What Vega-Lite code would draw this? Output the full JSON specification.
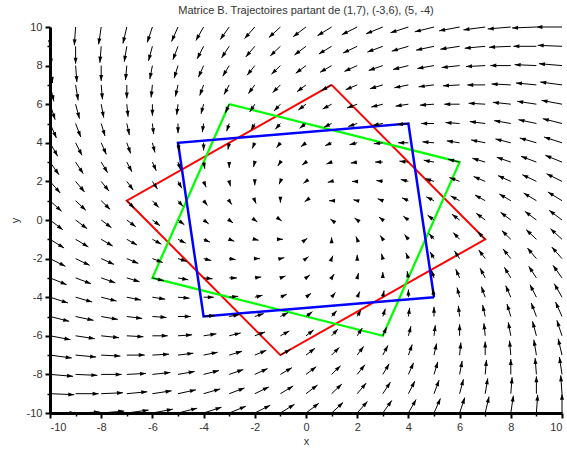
{
  "$schema": "https://vega.github.io/schema/vega-lite/v6.json",
  "width": 512,
  "height": 386,
  "autosize": {"type": "none"},
  "padding": {"left": 50, "top": 27, "right": 5, "bottom": 37},
  "background": "white",
  "title": {"text": "Matrice B. Trajectoires partant de (1,7), (-3,6), (5, -4)", "font": "Liberation Sans", "fontSize": 11, "fontWeight": "normal", "color": "#333", "anchor": "middle", "frame": "group", "baseline": "bottom", "offset": 13, "dy": 19},
  "datasets": {
    "traj": [
      {"t": "r", "o": 0, "x": 1, "y": 7}, {"t": "r", "o": 1, "x": 7, "y": -1}, {"t": "r", "o": 2, "x": -1, "y": -7}, {"t": "r", "o": 3, "x": -7, "y": 1}, {"t": "r", "o": 4, "x": 1, "y": 7},
      {"t": "g", "o": 0, "x": -3, "y": 6}, {"t": "g", "o": 1, "x": 6, "y": 3}, {"t": "g", "o": 2, "x": 3, "y": -6}, {"t": "g", "o": 3, "x": -6, "y": -3}, {"t": "g", "o": 4, "x": -3, "y": 6},
      {"t": "b", "o": 0, "x": 5, "y": -4}, {"t": "b", "o": 1, "x": -4, "y": -5}, {"t": "b", "o": 2, "x": -5, "y": 4}, {"t": "b", "o": 3, "x": 4, "y": 5}, {"t": "b", "o": 4, "x": 5, "y": -4}
    ],
    "field": [
{"x":-10,"y":10,"x2":-10,"y2":9,"d":270},{"x":-9,"y":10,"x2":-9.05,"y2":9.05,"d":267},{"x":-8,"y":10,"x2":-8.1,"y2":9.1,"d":264},{"x":-7,"y":10,"x2":-7.15,"y2":9.15,"d":260},{"x":-6,"y":10,"x2":-6.2,"y2":9.2,"d":256},{"x":-5,"y":10,"x2":-5.25,"y2":9.25,"d":252},{"x":-4,"y":10,"x2":-4.3,"y2":9.3,"d":247},{"x":-3,"y":10,"x2":-3.35,"y2":9.35,"d":242},{"x":-2,"y":10,"x2":-2.4,"y2":9.4,"d":236},{"x":-1,"y":10,"x2":-1.45,"y2":9.45,"d":231},{"x":0,"y":10,"x2":-0.5,"y2":9.5,"d":225},{"x":1,"y":10,"x2":0.45,"y2":9.55,"d":219},{"x":2,"y":10,"x2":1.4,"y2":9.6,"d":214},{"x":3,"y":10,"x2":2.35,"y2":9.65,"d":208},{"x":4,"y":10,"x2":3.3,"y2":9.7,"d":203},{"x":5,"y":10,"x2":4.25,"y2":9.75,"d":198},{"x":6,"y":10,"x2":5.2,"y2":9.8,"d":194},{"x":7,"y":10,"x2":6.15,"y2":9.85,"d":190},{"x":8,"y":10,"x2":7.1,"y2":9.9,"d":186},{"x":9,"y":10,"x2":8.05,"y2":9.95,"d":183},{"x":10,"y":10,"x2":9,"y2":10,"d":180},
{"x":-10,"y":9,"x2":-9.95,"y2":8.05,"d":273},{"x":-9,"y":9,"x2":-9,"y2":8.1,"d":270},{"x":-8,"y":9,"x2":-8.05,"y2":8.15,"d":267},{"x":-7,"y":9,"x2":-7.1,"y2":8.2,"d":263},{"x":-6,"y":9,"x2":-6.15,"y2":8.25,"d":259},{"x":-5,"y":9,"x2":-5.2,"y2":8.3,"d":254},{"x":-4,"y":9,"x2":-4.25,"y2":8.35,"d":249},{"x":-3,"y":9,"x2":-3.3,"y2":8.4,"d":243},{"x":-2,"y":9,"x2":-2.35,"y2":8.45,"d":238},{"x":-1,"y":9,"x2":-1.4,"y2":8.5,"d":231},{"x":0,"y":9,"x2":-0.45,"y2":8.55,"d":225},{"x":1,"y":9,"x2":0.5,"y2":8.6,"d":219},{"x":2,"y":9,"x2":1.45,"y2":8.65,"d":212},{"x":3,"y":9,"x2":2.4,"y2":8.7,"d":207},{"x":4,"y":9,"x2":3.35,"y2":8.75,"d":201},{"x":5,"y":9,"x2":4.3,"y2":8.8,"d":196},{"x":6,"y":9,"x2":5.25,"y2":8.85,"d":191},{"x":7,"y":9,"x2":6.2,"y2":8.9,"d":187},{"x":8,"y":9,"x2":7.15,"y2":8.95,"d":183},{"x":9,"y":9,"x2":8.1,"y2":9,"d":180},{"x":10,"y":9,"x2":9.05,"y2":9.05,"d":177},
{"x":-10,"y":8,"x2":-9.9,"y2":7.1,"d":276},{"x":-9,"y":8,"x2":-8.95,"y2":7.15,"d":273},{"x":-8,"y":8,"x2":-8,"y2":7.2,"d":270},{"x":-7,"y":8,"x2":-7.05,"y2":7.25,"d":266},{"x":-6,"y":8,"x2":-6.1,"y2":7.3,"d":262},{"x":-5,"y":8,"x2":-5.15,"y2":7.35,"d":257},{"x":-4,"y":8,"x2":-4.2,"y2":7.4,"d":252},{"x":-3,"y":8,"x2":-3.25,"y2":7.45,"d":246},{"x":-2,"y":8,"x2":-2.3,"y2":7.5,"d":239},{"x":-1,"y":8,"x2":-1.35,"y2":7.55,"d":232},{"x":0,"y":8,"x2":-0.4,"y2":7.6,"d":225},{"x":1,"y":8,"x2":0.55,"y2":7.65,"d":218},{"x":2,"y":8,"x2":1.5,"y2":7.7,"d":211},{"x":3,"y":8,"x2":2.45,"y2":7.75,"d":204},{"x":4,"y":8,"x2":3.4,"y2":7.8,"d":198},{"x":5,"y":8,"x2":4.35,"y2":7.85,"d":193},{"x":6,"y":8,"x2":5.3,"y2":7.9,"d":188},{"x":7,"y":8,"x2":6.25,"y2":7.95,"d":184},{"x":8,"y":8,"x2":7.2,"y2":8,"d":180},{"x":9,"y":8,"x2":8.15,"y2":8.05,"d":177},{"x":10,"y":8,"x2":9.1,"y2":8.1,"d":174},
{"x":-10,"y":7,"x2":-9.85,"y2":6.15,"d":280},{"x":-9,"y":7,"x2":-8.9,"y2":6.2,"d":277},{"x":-8,"y":7,"x2":-7.95,"y2":6.25,"d":274},{"x":-7,"y":7,"x2":-7,"y2":6.3,"d":270},{"x":-6,"y":7,"x2":-6.05,"y2":6.35,"d":266},{"x":-5,"y":7,"x2":-5.1,"y2":6.4,"d":261},{"x":-4,"y":7,"x2":-4.15,"y2":6.45,"d":255},{"x":-3,"y":7,"x2":-3.2,"y2":6.5,"d":248},{"x":-2,"y":7,"x2":-2.25,"y2":6.55,"d":241},{"x":-1,"y":7,"x2":-1.3,"y2":6.6,"d":233},{"x":0,"y":7,"x2":-0.35,"y2":6.65,"d":225},{"x":1,"y":7,"x2":0.6,"y2":6.7,"d":217},{"x":2,"y":7,"x2":1.55,"y2":6.75,"d":209},{"x":3,"y":7,"x2":2.5,"y2":6.8,"d":202},{"x":4,"y":7,"x2":3.45,"y2":6.85,"d":195},{"x":5,"y":7,"x2":4.4,"y2":6.9,"d":189},{"x":6,"y":7,"x2":5.35,"y2":6.95,"d":184},{"x":7,"y":7,"x2":6.3,"y2":7,"d":180},{"x":8,"y":7,"x2":7.25,"y2":7.05,"d":176},{"x":9,"y":7,"x2":8.2,"y2":7.1,"d":173},{"x":10,"y":7,"x2":9.15,"y2":7.15,"d":170},
{"x":-10,"y":6,"x2":-9.8,"y2":5.2,"d":284},{"x":-9,"y":6,"x2":-8.85,"y2":5.25,"d":281},{"x":-8,"y":6,"x2":-7.9,"y2":5.3,"d":278},{"x":-7,"y":6,"x2":-6.95,"y2":5.35,"d":274},{"x":-6,"y":6,"x2":-6,"y2":5.4,"d":270},{"x":-5,"y":6,"x2":-5.05,"y2":5.45,"d":265},{"x":-4,"y":6,"x2":-4.1,"y2":5.5,"d":259},{"x":-3,"y":6,"x2":-3.15,"y2":5.55,"d":252},{"x":-2,"y":6,"x2":-2.2,"y2":5.6,"d":243},{"x":-1,"y":6,"x2":-1.25,"y2":5.65,"d":234},{"x":0,"y":6,"x2":-0.3,"y2":5.7,"d":225},{"x":1,"y":6,"x2":0.65,"y2":5.75,"d":216},{"x":2,"y":6,"x2":1.6,"y2":5.8,"d":207},{"x":3,"y":6,"x2":2.55,"y2":5.85,"d":198},{"x":4,"y":6,"x2":3.5,"y2":5.9,"d":191},{"x":5,"y":6,"x2":4.45,"y2":5.95,"d":185},{"x":6,"y":6,"x2":5.4,"y2":6,"d":180},{"x":7,"y":6,"x2":6.35,"y2":6.05,"d":176},{"x":8,"y":6,"x2":7.3,"y2":6.1,"d":172},{"x":9,"y":6,"x2":8.25,"y2":6.15,"d":169},{"x":10,"y":6,"x2":9.2,"y2":6.2,"d":166},
{"x":-10,"y":5,"x2":-9.75,"y2":4.25,"d":288},{"x":-9,"y":5,"x2":-8.8,"y2":4.3,"d":286},{"x":-8,"y":5,"x2":-7.85,"y2":4.35,"d":283},{"x":-7,"y":5,"x2":-6.9,"y2":4.4,"d":279},{"x":-6,"y":5,"x2":-5.95,"y2":4.45,"d":275},{"x":-5,"y":5,"x2":-5,"y2":4.5,"d":270},{"x":-4,"y":5,"x2":-4.05,"y2":4.55,"d":264},{"x":-3,"y":5,"x2":-3.1,"y2":4.6,"d":256},{"x":-2,"y":5,"x2":-2.15,"y2":4.65,"d":247},{"x":-1,"y":5,"x2":-1.2,"y2":4.7,"d":236},{"x":0,"y":5,"x2":-0.25,"y2":4.75,"d":225},{"x":1,"y":5,"x2":0.7,"y2":4.8,"d":214},{"x":2,"y":5,"x2":1.65,"y2":4.85,"d":203},{"x":3,"y":5,"x2":2.6,"y2":4.9,"d":194},{"x":4,"y":5,"x2":3.55,"y2":4.95,"d":186},{"x":5,"y":5,"x2":4.5,"y2":5,"d":180},{"x":6,"y":5,"x2":5.45,"y2":5.05,"d":175},{"x":7,"y":5,"x2":6.4,"y2":5.1,"d":171},{"x":8,"y":5,"x2":7.35,"y2":5.15,"d":167},{"x":9,"y":5,"x2":8.3,"y2":5.2,"d":164},{"x":10,"y":5,"x2":9.25,"y2":5.25,"d":162},
{"x":-10,"y":4,"x2":-9.7,"y2":3.3,"d":293},{"x":-9,"y":4,"x2":-8.75,"y2":3.35,"d":291},{"x":-8,"y":4,"x2":-7.8,"y2":3.4,"d":288},{"x":-7,"y":4,"x2":-6.85,"y2":3.45,"d":285},{"x":-6,"y":4,"x2":-5.9,"y2":3.5,"d":281},{"x":-5,"y":4,"x2":-4.95,"y2":3.55,"d":276},{"x":-4,"y":4,"x2":-4,"y2":3.6,"d":270},{"x":-3,"y":4,"x2":-3.05,"y2":3.65,"d":262},{"x":-2,"y":4,"x2":-2.1,"y2":3.7,"d":252},{"x":-1,"y":4,"x2":-1.15,"y2":3.75,"d":239},{"x":0,"y":4,"x2":-0.2,"y2":3.8,"d":225},{"x":1,"y":4,"x2":0.75,"y2":3.85,"d":211},{"x":2,"y":4,"x2":1.7,"y2":3.9,"d":198},{"x":3,"y":4,"x2":2.65,"y2":3.95,"d":188},{"x":4,"y":4,"x2":3.6,"y2":4,"d":180},{"x":5,"y":4,"x2":4.55,"y2":4.05,"d":174},{"x":6,"y":4,"x2":5.5,"y2":4.1,"d":169},{"x":7,"y":4,"x2":6.45,"y2":4.15,"d":165},{"x":8,"y":4,"x2":7.4,"y2":4.2,"d":162},{"x":9,"y":4,"x2":8.35,"y2":4.25,"d":159},{"x":10,"y":4,"x2":9.3,"y2":4.3,"d":157},
{"x":-10,"y":3,"x2":-9.65,"y2":2.35,"d":298},{"x":-9,"y":3,"x2":-8.7,"y2":2.4,"d":297},{"x":-8,"y":3,"x2":-7.75,"y2":2.45,"d":294},{"x":-7,"y":3,"x2":-6.8,"y2":2.5,"d":292},{"x":-6,"y":3,"x2":-5.85,"y2":2.55,"d":288},{"x":-5,"y":3,"x2":-4.9,"y2":2.6,"d":284},{"x":-4,"y":3,"x2":-3.95,"y2":2.65,"d":278},{"x":-3,"y":3,"x2":-3,"y2":2.7,"d":270},{"x":-2,"y":3,"x2":-2.05,"y2":2.75,"d":259},{"x":-1,"y":3,"x2":-1.1,"y2":2.8,"d":243},{"x":0,"y":3,"x2":-0.15,"y2":2.85,"d":225},{"x":1,"y":3,"x2":0.8,"y2":2.9,"d":207},{"x":2,"y":3,"x2":1.75,"y2":2.95,"d":191},{"x":3,"y":3,"x2":2.7,"y2":3,"d":180},{"x":4,"y":3,"x2":3.65,"y2":3.05,"d":172},{"x":5,"y":3,"x2":4.6,"y2":3.1,"d":166},{"x":6,"y":3,"x2":5.55,"y2":3.15,"d":162},{"x":7,"y":3,"x2":6.5,"y2":3.2,"d":158},{"x":8,"y":3,"x2":7.45,"y2":3.25,"d":156},{"x":9,"y":3,"x2":8.4,"y2":3.3,"d":153},{"x":10,"y":3,"x2":9.35,"y2":3.35,"d":152},
{"x":-10,"y":2,"x2":-9.6,"y2":1.4,"d":304},{"x":-9,"y":2,"x2":-8.65,"y2":1.45,"d":302},{"x":-8,"y":2,"x2":-7.7,"y2":1.5,"d":301},{"x":-7,"y":2,"x2":-6.75,"y2":1.55,"d":299},{"x":-6,"y":2,"x2":-5.8,"y2":1.6,"d":297},{"x":-5,"y":2,"x2":-4.85,"y2":1.65,"d":293},{"x":-4,"y":2,"x2":-3.9,"y2":1.7,"d":288},{"x":-3,"y":2,"x2":-2.95,"y2":1.75,"d":281},{"x":-2,"y":2,"x2":-2,"y2":1.8,"d":270},{"x":-1,"y":2,"x2":-1.05,"y2":1.85,"d":252},{"x":0,"y":2,"x2":-0.1,"y2":1.9,"d":225},{"x":1,"y":2,"x2":0.85,"y2":1.95,"d":198},{"x":2,"y":2,"x2":1.8,"y2":2,"d":180},{"x":3,"y":2,"x2":2.75,"y2":2.05,"d":169},{"x":4,"y":2,"x2":3.7,"y2":2.1,"d":162},{"x":5,"y":2,"x2":4.65,"y2":2.15,"d":157},{"x":6,"y":2,"x2":5.6,"y2":2.2,"d":153},{"x":7,"y":2,"x2":6.55,"y2":2.25,"d":151},{"x":8,"y":2,"x2":7.5,"y2":2.3,"d":149},{"x":9,"y":2,"x2":8.45,"y2":2.35,"d":148},{"x":10,"y":2,"x2":9.4,"y2":2.4,"d":146},
{"x":-10,"y":1,"x2":-9.55,"y2":0.45,"d":309},{"x":-9,"y":1,"x2":-8.6,"y2":0.5,"d":309},{"x":-8,"y":1,"x2":-7.65,"y2":0.55,"d":308},{"x":-7,"y":1,"x2":-6.7,"y2":0.6,"d":307},{"x":-6,"y":1,"x2":-5.75,"y2":0.65,"d":306},{"x":-5,"y":1,"x2":-4.8,"y2":0.7,"d":304},{"x":-4,"y":1,"x2":-3.85,"y2":0.75,"d":301},{"x":-3,"y":1,"x2":-2.9,"y2":0.8,"d":297},{"x":-2,"y":1,"x2":-1.95,"y2":0.85,"d":288},{"x":-1,"y":1,"x2":-1,"y2":0.9,"d":270},{"x":0,"y":1,"x2":-0.05,"y2":0.95,"d":225},{"x":1,"y":1,"x2":0.9,"y2":1,"d":180},{"x":2,"y":1,"x2":1.85,"y2":1.05,"d":162},{"x":3,"y":1,"x2":2.8,"y2":1.1,"d":153},{"x":4,"y":1,"x2":3.75,"y2":1.15,"d":149},{"x":5,"y":1,"x2":4.7,"y2":1.2,"d":146},{"x":6,"y":1,"x2":5.65,"y2":1.25,"d":144},{"x":7,"y":1,"x2":6.6,"y2":1.3,"d":143},{"x":8,"y":1,"x2":7.55,"y2":1.35,"d":142},{"x":9,"y":1,"x2":8.5,"y2":1.4,"d":141},{"x":10,"y":1,"x2":9.45,"y2":1.45,"d":141},
{"x":-10,"y":0,"x2":-9.5,"y2":-0.5,"d":315},{"x":-9,"y":0,"x2":-8.55,"y2":-0.45,"d":315},{"x":-8,"y":0,"x2":-7.6,"y2":-0.4,"d":315},{"x":-7,"y":0,"x2":-6.65,"y2":-0.35,"d":315},{"x":-6,"y":0,"x2":-5.7,"y2":-0.3,"d":315},{"x":-5,"y":0,"x2":-4.75,"y2":-0.25,"d":315},{"x":-4,"y":0,"x2":-3.8,"y2":-0.2,"d":315},{"x":-3,"y":0,"x2":-2.85,"y2":-0.15,"d":315},{"x":-2,"y":0,"x2":-1.9,"y2":-0.1,"d":315},{"x":-1,"y":0,"x2":-0.95,"y2":-0.05,"d":315},{"x":1,"y":0,"x2":0.95,"y2":0.05,"d":135},{"x":2,"y":0,"x2":1.9,"y2":0.1,"d":135},{"x":3,"y":0,"x2":2.85,"y2":0.15,"d":135},{"x":4,"y":0,"x2":3.8,"y2":0.2,"d":135},{"x":5,"y":0,"x2":4.75,"y2":0.25,"d":135},{"x":6,"y":0,"x2":5.7,"y2":0.3,"d":135},{"x":7,"y":0,"x2":6.65,"y2":0.35,"d":135},{"x":8,"y":0,"x2":7.6,"y2":0.4,"d":135},{"x":9,"y":0,"x2":8.55,"y2":0.45,"d":135},{"x":10,"y":0,"x2":9.5,"y2":0.5,"d":135},
{"x":-10,"y":-1,"x2":-9.45,"y2":-1.45,"d":321},{"x":-9,"y":-1,"x2":-8.5,"y2":-1.4,"d":321},{"x":-8,"y":-1,"x2":-7.55,"y2":-1.35,"d":322},{"x":-7,"y":-1,"x2":-6.6,"y2":-1.3,"d":323},{"x":-6,"y":-1,"x2":-5.65,"y2":-1.25,"d":324},{"x":-5,"y":-1,"x2":-4.7,"y2":-1.2,"d":326},{"x":-4,"y":-1,"x2":-3.75,"y2":-1.15,"d":329},{"x":-3,"y":-1,"x2":-2.8,"y2":-1.1,"d":333},{"x":-2,"y":-1,"x2":-1.85,"y2":-1.05,"d":342},{"x":-1,"y":-1,"x2":-0.9,"y2":-1,"d":0},{"x":0,"y":-1,"x2":0.05,"y2":-0.95,"d":45},{"x":1,"y":-1,"x2":1,"y2":-0.9,"d":90},{"x":2,"y":-1,"x2":1.95,"y2":-0.85,"d":108},{"x":3,"y":-1,"x2":2.9,"y2":-0.8,"d":117},{"x":4,"y":-1,"x2":3.85,"y2":-0.75,"d":121},{"x":5,"y":-1,"x2":4.8,"y2":-0.7,"d":124},{"x":6,"y":-1,"x2":5.75,"y2":-0.65,"d":126},{"x":7,"y":-1,"x2":6.7,"y2":-0.6,"d":127},{"x":8,"y":-1,"x2":7.65,"y2":-0.55,"d":128},{"x":9,"y":-1,"x2":8.6,"y2":-0.5,"d":129},{"x":10,"y":-1,"x2":9.55,"y2":-0.45,"d":129},
{"x":-10,"y":-2,"x2":-9.4,"y2":-2.4,"d":326},{"x":-9,"y":-2,"x2":-8.45,"y2":-2.35,"d":328},{"x":-8,"y":-2,"x2":-7.5,"y2":-2.3,"d":329},{"x":-7,"y":-2,"x2":-6.55,"y2":-2.25,"d":331},{"x":-6,"y":-2,"x2":-5.6,"y2":-2.2,"d":333},{"x":-5,"y":-2,"x2":-4.65,"y2":-2.15,"d":337},{"x":-4,"y":-2,"x2":-3.7,"y2":-2.1,"d":342},{"x":-3,"y":-2,"x2":-2.75,"y2":-2.05,"d":349},{"x":-2,"y":-2,"x2":-1.8,"y2":-2,"d":0},{"x":-1,"y":-2,"x2":-0.85,"y2":-1.95,"d":18},{"x":0,"y":-2,"x2":0.1,"y2":-1.9,"d":45},{"x":1,"y":-2,"x2":1.05,"y2":-1.85,"d":72},{"x":2,"y":-2,"x2":2,"y2":-1.8,"d":90},{"x":3,"y":-2,"x2":2.95,"y2":-1.75,"d":101},{"x":4,"y":-2,"x2":3.9,"y2":-1.7,"d":108},{"x":5,"y":-2,"x2":4.85,"y2":-1.65,"d":113},{"x":6,"y":-2,"x2":5.8,"y2":-1.6,"d":117},{"x":7,"y":-2,"x2":6.75,"y2":-1.55,"d":119},{"x":8,"y":-2,"x2":7.7,"y2":-1.5,"d":121},{"x":9,"y":-2,"x2":8.65,"y2":-1.45,"d":122},{"x":10,"y":-2,"x2":9.6,"y2":-1.4,"d":124},
{"x":-10,"y":-3,"x2":-9.35,"y2":-3.35,"d":332},{"x":-9,"y":-3,"x2":-8.4,"y2":-3.3,"d":333},{"x":-8,"y":-3,"x2":-7.45,"y2":-3.25,"d":336},{"x":-7,"y":-3,"x2":-6.5,"y2":-3.2,"d":338},{"x":-6,"y":-3,"x2":-5.55,"y2":-3.15,"d":342},{"x":-5,"y":-3,"x2":-4.6,"y2":-3.1,"d":346},{"x":-4,"y":-3,"x2":-3.65,"y2":-3.05,"d":352},{"x":-3,"y":-3,"x2":-2.7,"y2":-3,"d":0},{"x":-2,"y":-3,"x2":-1.75,"y2":-2.95,"d":11},{"x":-1,"y":-3,"x2":-0.8,"y2":-2.9,"d":27},{"x":0,"y":-3,"x2":0.15,"y2":-2.85,"d":45},{"x":1,"y":-3,"x2":1.1,"y2":-2.8,"d":63},{"x":2,"y":-3,"x2":2.05,"y2":-2.75,"d":79},{"x":3,"y":-3,"x2":3,"y2":-2.7,"d":90},{"x":4,"y":-3,"x2":3.95,"y2":-2.65,"d":98},{"x":5,"y":-3,"x2":4.9,"y2":-2.6,"d":104},{"x":6,"y":-3,"x2":5.85,"y2":-2.55,"d":108},{"x":7,"y":-3,"x2":6.8,"y2":-2.5,"d":112},{"x":8,"y":-3,"x2":7.75,"y2":-2.45,"d":114},{"x":9,"y":-3,"x2":8.7,"y2":-2.4,"d":117},{"x":10,"y":-3,"x2":9.65,"y2":-2.35,"d":118},
{"x":-10,"y":-4,"x2":-9.3,"y2":-4.3,"d":337},{"x":-9,"y":-4,"x2":-8.35,"y2":-4.25,"d":339},{"x":-8,"y":-4,"x2":-7.4,"y2":-4.2,"d":342},{"x":-7,"y":-4,"x2":-6.45,"y2":-4.15,"d":345},{"x":-6,"y":-4,"x2":-5.5,"y2":-4.1,"d":349},{"x":-5,"y":-4,"x2":-4.55,"y2":-4.05,"d":354},{"x":-4,"y":-4,"x2":-3.6,"y2":-4,"d":0},{"x":-3,"y":-4,"x2":-2.65,"y2":-3.95,"d":8},{"x":-2,"y":-4,"x2":-1.7,"y2":-3.9,"d":18},{"x":-1,"y":-4,"x2":-0.75,"y2":-3.85,"d":31},{"x":0,"y":-4,"x2":0.2,"y2":-3.8,"d":45},{"x":1,"y":-4,"x2":1.15,"y2":-3.75,"d":59},{"x":2,"y":-4,"x2":2.1,"y2":-3.7,"d":72},{"x":3,"y":-4,"x2":3.05,"y2":-3.65,"d":82},{"x":4,"y":-4,"x2":4,"y2":-3.6,"d":90},{"x":5,"y":-4,"x2":4.95,"y2":-3.55,"d":96},{"x":6,"y":-4,"x2":5.9,"y2":-3.5,"d":101},{"x":7,"y":-4,"x2":6.85,"y2":-3.45,"d":105},{"x":8,"y":-4,"x2":7.8,"y2":-3.4,"d":108},{"x":9,"y":-4,"x2":8.75,"y2":-3.35,"d":111},{"x":10,"y":-4,"x2":9.7,"y2":-3.3,"d":113},
{"x":-10,"y":-5,"x2":-9.25,"y2":-5.25,"d":342},{"x":-9,"y":-5,"x2":-8.3,"y2":-5.2,"d":344},{"x":-8,"y":-5,"x2":-7.35,"y2":-5.15,"d":347},{"x":-7,"y":-5,"x2":-6.4,"y2":-5.1,"d":351},{"x":-6,"y":-5,"x2":-5.45,"y2":-5.05,"d":355},{"x":-5,"y":-5,"x2":-4.5,"y2":-5,"d":0},{"x":-4,"y":-5,"x2":-3.55,"y2":-4.95,"d":6},{"x":-3,"y":-5,"x2":-2.6,"y2":-4.9,"d":14},{"x":-2,"y":-5,"x2":-1.65,"y2":-4.85,"d":23},{"x":-1,"y":-5,"x2":-0.7,"y2":-4.8,"d":34},{"x":0,"y":-5,"x2":0.25,"y2":-4.75,"d":45},{"x":1,"y":-5,"x2":1.2,"y2":-4.7,"d":56},{"x":2,"y":-5,"x2":2.15,"y2":-4.65,"d":67},{"x":3,"y":-5,"x2":3.1,"y2":-4.6,"d":76},{"x":4,"y":-5,"x2":4.05,"y2":-4.55,"d":84},{"x":5,"y":-5,"x2":5,"y2":-4.5,"d":90},{"x":6,"y":-5,"x2":5.95,"y2":-4.45,"d":95},{"x":7,"y":-5,"x2":6.9,"y2":-4.4,"d":99},{"x":8,"y":-5,"x2":7.85,"y2":-4.35,"d":103},{"x":9,"y":-5,"x2":8.8,"y2":-4.3,"d":106},{"x":10,"y":-5,"x2":9.75,"y2":-4.25,"d":108},
{"x":-10,"y":-6,"x2":-9.2,"y2":-6.2,"d":346},{"x":-9,"y":-6,"x2":-8.25,"y2":-6.15,"d":349},{"x":-8,"y":-6,"x2":-7.3,"y2":-6.1,"d":352},{"x":-7,"y":-6,"x2":-6.35,"y2":-6.05,"d":356},{"x":-6,"y":-6,"x2":-5.4,"y2":-6,"d":0},{"x":-5,"y":-6,"x2":-4.45,"y2":-5.95,"d":5},{"x":-4,"y":-6,"x2":-3.5,"y2":-5.9,"d":11},{"x":-3,"y":-6,"x2":-2.55,"y2":-5.85,"d":18},{"x":-2,"y":-6,"x2":-1.6,"y2":-5.8,"d":27},{"x":-1,"y":-6,"x2":-0.65,"y2":-5.75,"d":36},{"x":0,"y":-6,"x2":0.3,"y2":-5.7,"d":45},{"x":1,"y":-6,"x2":1.25,"y2":-5.65,"d":54},{"x":2,"y":-6,"x2":2.2,"y2":-5.6,"d":63},{"x":3,"y":-6,"x2":3.15,"y2":-5.55,"d":72},{"x":4,"y":-6,"x2":4.1,"y2":-5.5,"d":79},{"x":5,"y":-6,"x2":5.05,"y2":-5.45,"d":85},{"x":6,"y":-6,"x2":6,"y2":-5.4,"d":90},{"x":7,"y":-6,"x2":6.95,"y2":-5.35,"d":94},{"x":8,"y":-6,"x2":7.9,"y2":-5.3,"d":98},{"x":9,"y":-6,"x2":8.85,"y2":-5.25,"d":101},{"x":10,"y":-6,"x2":9.8,"y2":-5.2,"d":104},
{"x":-10,"y":-7,"x2":-9.15,"y2":-7.15,"d":350},{"x":-9,"y":-7,"x2":-8.2,"y2":-7.1,"d":353},{"x":-8,"y":-7,"x2":-7.25,"y2":-7.05,"d":356},{"x":-7,"y":-7,"x2":-6.3,"y2":-7,"d":0},{"x":-6,"y":-7,"x2":-5.35,"y2":-6.95,"d":4},{"x":-5,"y":-7,"x2":-4.4,"y2":-6.9,"d":9},{"x":-4,"y":-7,"x2":-3.45,"y2":-6.85,"d":15},{"x":-3,"y":-7,"x2":-2.5,"y2":-6.8,"d":22},{"x":-2,"y":-7,"x2":-1.55,"y2":-6.75,"d":29},{"x":-1,"y":-7,"x2":-0.6,"y2":-6.7,"d":37},{"x":0,"y":-7,"x2":0.35,"y2":-6.65,"d":45},{"x":1,"y":-7,"x2":1.3,"y2":-6.6,"d":53},{"x":2,"y":-7,"x2":2.25,"y2":-6.55,"d":61},{"x":3,"y":-7,"x2":3.2,"y2":-6.5,"d":68},{"x":4,"y":-7,"x2":4.15,"y2":-6.45,"d":75},{"x":5,"y":-7,"x2":5.1,"y2":-6.4,"d":81},{"x":6,"y":-7,"x2":6.05,"y2":-6.35,"d":86},{"x":7,"y":-7,"x2":7,"y2":-6.3,"d":90},{"x":8,"y":-7,"x2":7.95,"y2":-6.25,"d":94},{"x":9,"y":-7,"x2":8.9,"y2":-6.2,"d":97},{"x":10,"y":-7,"x2":9.85,"y2":-6.15,"d":100},
{"x":-10,"y":-8,"x2":-9.1,"y2":-8.1,"d":354},{"x":-9,"y":-8,"x2":-8.15,"y2":-8.05,"d":357},{"x":-8,"y":-8,"x2":-7.2,"y2":-8,"d":0},{"x":-7,"y":-8,"x2":-6.25,"y2":-7.95,"d":4},{"x":-6,"y":-8,"x2":-5.3,"y2":-7.9,"d":8},{"x":-5,"y":-8,"x2":-4.35,"y2":-7.85,"d":13},{"x":-4,"y":-8,"x2":-3.4,"y2":-7.8,"d":18},{"x":-3,"y":-8,"x2":-2.45,"y2":-7.75,"d":24},{"x":-2,"y":-8,"x2":-1.5,"y2":-7.7,"d":31},{"x":-1,"y":-8,"x2":-0.55,"y2":-7.65,"d":38},{"x":0,"y":-8,"x2":0.4,"y2":-7.6,"d":45},{"x":1,"y":-8,"x2":1.35,"y2":-7.55,"d":52},{"x":2,"y":-8,"x2":2.3,"y2":-7.5,"d":59},{"x":3,"y":-8,"x2":3.25,"y2":-7.45,"d":66},{"x":4,"y":-8,"x2":4.2,"y2":-7.4,"d":72},{"x":5,"y":-8,"x2":5.15,"y2":-7.35,"d":77},{"x":6,"y":-8,"x2":6.1,"y2":-7.3,"d":82},{"x":7,"y":-8,"x2":7.05,"y2":-7.25,"d":86},{"x":8,"y":-8,"x2":8,"y2":-7.2,"d":90},{"x":9,"y":-8,"x2":8.95,"y2":-7.15,"d":93},{"x":10,"y":-8,"x2":9.9,"y2":-7.1,"d":96},
{"x":-10,"y":-9,"x2":-9.05,"y2":-9.05,"d":357},{"x":-9,"y":-9,"x2":-8.1,"y2":-9,"d":0},{"x":-8,"y":-9,"x2":-7.15,"y2":-8.95,"d":3},{"x":-7,"y":-9,"x2":-6.2,"y2":-8.9,"d":7},{"x":-6,"y":-9,"x2":-5.25,"y2":-8.85,"d":11},{"x":-5,"y":-9,"x2":-4.3,"y2":-8.8,"d":16},{"x":-4,"y":-9,"x2":-3.35,"y2":-8.75,"d":21},{"x":-3,"y":-9,"x2":-2.4,"y2":-8.7,"d":27},{"x":-2,"y":-9,"x2":-1.45,"y2":-8.65,"d":32},{"x":-1,"y":-9,"x2":-0.5,"y2":-8.6,"d":39},{"x":0,"y":-9,"x2":0.45,"y2":-8.55,"d":45},{"x":1,"y":-9,"x2":1.4,"y2":-8.5,"d":51},{"x":2,"y":-9,"x2":2.35,"y2":-8.45,"d":58},{"x":3,"y":-9,"x2":3.3,"y2":-8.4,"d":63},{"x":4,"y":-9,"x2":4.25,"y2":-8.35,"d":69},{"x":5,"y":-9,"x2":5.2,"y2":-8.3,"d":74},{"x":6,"y":-9,"x2":6.15,"y2":-8.25,"d":79},{"x":7,"y":-9,"x2":7.1,"y2":-8.2,"d":83},{"x":8,"y":-9,"x2":8.05,"y2":-8.15,"d":87},{"x":9,"y":-9,"x2":9,"y2":-8.1,"d":90},{"x":10,"y":-9,"x2":9.95,"y2":-8.05,"d":93},
{"x":-10,"y":-10,"x2":-9,"y2":-10,"d":0},{"x":-9,"y":-10,"x2":-8.05,"y2":-9.95,"d":3},{"x":-8,"y":-10,"x2":-7.1,"y2":-9.9,"d":6},{"x":-7,"y":-10,"x2":-6.15,"y2":-9.85,"d":10},{"x":-6,"y":-10,"x2":-5.2,"y2":-9.8,"d":14},{"x":-5,"y":-10,"x2":-4.25,"y2":-9.75,"d":18},{"x":-4,"y":-10,"x2":-3.3,"y2":-9.7,"d":23},{"x":-3,"y":-10,"x2":-2.35,"y2":-9.65,"d":28},{"x":-2,"y":-10,"x2":-1.4,"y2":-9.6,"d":34},{"x":-1,"y":-10,"x2":-0.45,"y2":-9.55,"d":39},{"x":0,"y":-10,"x2":0.5,"y2":-9.5,"d":45},{"x":1,"y":-10,"x2":1.45,"y2":-9.45,"d":51},{"x":2,"y":-10,"x2":2.4,"y2":-9.4,"d":56},{"x":3,"y":-10,"x2":3.35,"y2":-9.35,"d":62},{"x":4,"y":-10,"x2":4.3,"y2":-9.3,"d":67},{"x":5,"y":-10,"x2":5.25,"y2":-9.25,"d":72},{"x":6,"y":-10,"x2":6.2,"y2":-9.2,"d":76},{"x":7,"y":-10,"x2":7.15,"y2":-9.15,"d":80},{"x":8,"y":-10,"x2":8.1,"y2":-9.1,"d":84},{"x":9,"y":-10,"x2":9.05,"y2":-9.05,"d":87},{"x":10,"y":-10,"x2":10,"y2":-9,"d":90}
    ]
  },
  "resolve": {"axis": {"x": "independent", "y": "independent"}},
  "layer": [
    {
      "data": {"name": "traj"},
      "mark": {"type": "line", "strokeJoin": "miter"},
      "encoding": {
        "x": {"field": "x", "type": "quantitative", "title": "x", "scale": {"domain": [-10, 10], "nice": false, "zero": false}, "axis": {"orient": "bottom"}},
        "y": {"field": "y", "type": "quantitative", "title": "y", "scale": {"domain": [-10, 10], "nice": false, "zero": false}, "axis": {"orient": "left"}},
        "order": {"field": "o", "type": "quantitative"},
        "color": {"field": "t", "type": "nominal", "scale": {"domain": ["r", "g", "b"], "range": ["#ff0000", "#00ff00", "#0000ff"]}, "legend": null},
        "strokeWidth": {"field": "t", "type": "nominal", "scale": {"domain": ["r", "g", "b"], "range": [2, 2.5, 3]}, "legend": null}
      }
    },
    {
      "data": {"name": "field"},
      "mark": {"type": "rule", "color": "black", "strokeWidth": 1},
      "encoding": {
        "x": {"field": "x", "type": "quantitative", "axis": null},
        "y": {"field": "y", "type": "quantitative", "axis": null},
        "x2": {"field": "x2"},
        "y2": {"field": "y2"}
      }
    },
    {
      "data": {"name": "field"},
      "mark": {"type": "point", "shape": "M0,0L-0.5,1.5L0.5,1.5Z", "filled": true, "color": "black", "opacity": 1, "size": 64},
      "encoding": {
        "x": {"field": "x2", "type": "quantitative", "axis": null},
        "y": {"field": "y2", "type": "quantitative", "axis": null},
        "angle": {"field": "d", "type": "quantitative", "legend": null, "scale": {"domain": [0,15,30,45,60,75,90,105,120,135,150,165,180,195,210,225,240,255,270,285,300,315,330,345,360], "range": [90,78.6,66.5,53.1,37.5,19.6,0,-19.6,-37.5,-53.1,-66.5,-78.6,-90,-101.4,-113.5,-126.9,-142.5,-160.4,-180,-199.6,-217.5,-233.1,-246.5,-258.6,-270]}}
      }
    },
    {
      "data": {"name": "traj"},
      "mark": {"type": "point", "opacity": 0},
      "encoding": {
        "x": {"field": "x", "type": "quantitative", "axis": {"orient": "bottom", "values": [-9, -7, -5, -3, -1, 1, 3, 5, 7, 9], "labels": false, "domain": false, "title": null, "tickSize": 3, "tickWidth": 1.5}},
        "y": {"field": "y", "type": "quantitative", "axis": {"orient": "left", "values": [-9, -7, -5, -3, -1, 1, 3, 5, 7, 9], "labels": false, "domain": false, "title": null, "tickSize": 3, "tickWidth": 1.5}}
      }
    }
  ],
  "config": {
    "view": {"stroke": null},
    "axis": {"grid": false, "domainColor": "black", "domainWidth": 3, "tickColor": "black", "tickWidth": 2, "tickSize": 5, "labelFont": "Liberation Sans", "labelFontSize": 11, "labelColor": "#333", "titleFont": "Liberation Sans", "titleFontSize": 11, "titleFontWeight": "normal", "titleColor": "#333", "labelPadding": 3, "labelOverlap": false, "values": [-10, -8, -6, -4, -2, 0, 2, 4, 6, 8, 10], "labelExpr": "'' + datum.value"},
    "axisY": {"titlePadding": 6},
    "axisX": {"titlePadding": 3}
  }
}
